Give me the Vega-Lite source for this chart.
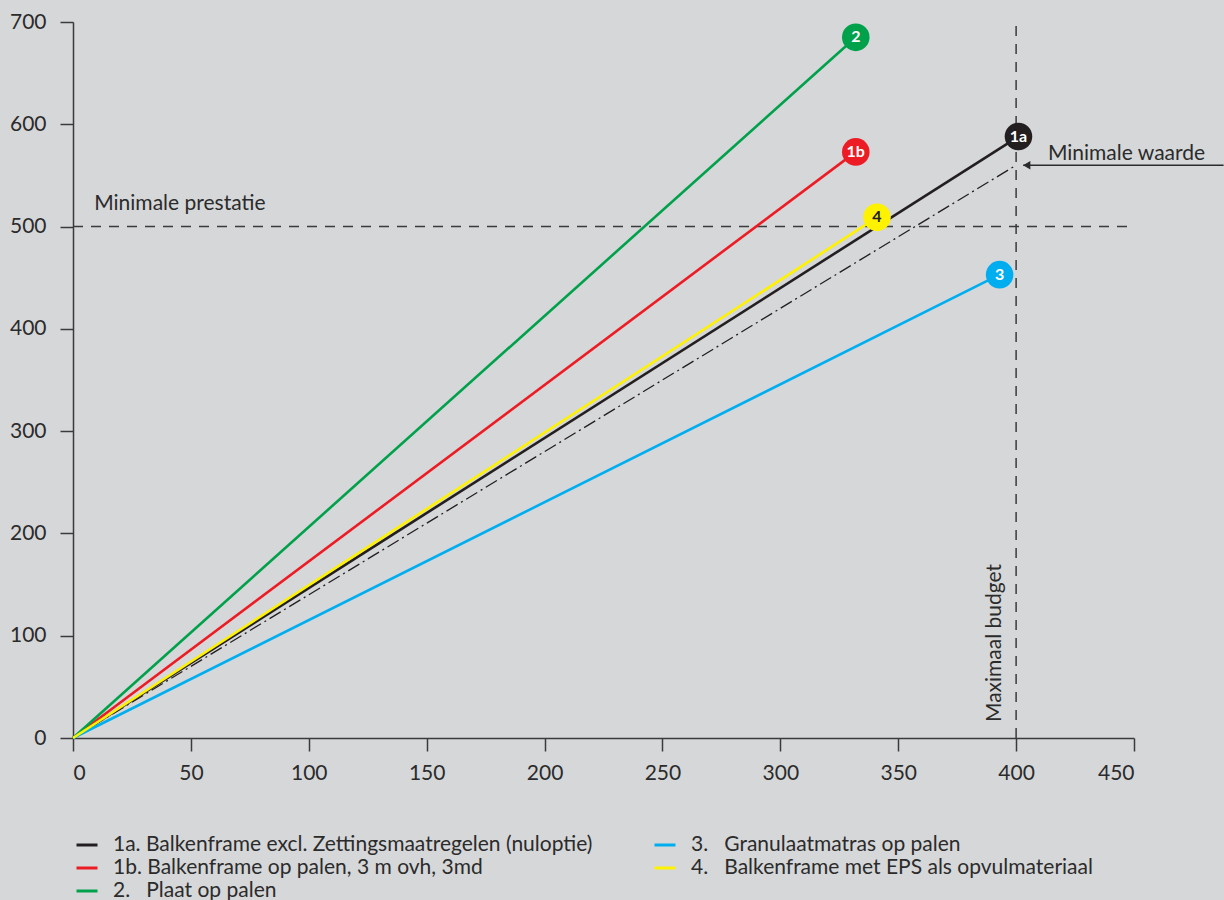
{
  "$schema": "https://vega.github.io/schema/vega-lite/v6.json",
  "width": 1061,
  "height": 716,
  "autosize": {"type": "none"},
  "padding": {"left": 73, "top": 22, "right": 90, "bottom": 162},
  "background": "#d6d7d9",
  "config": {
    "view": {"stroke": null},
    "font": "Lato",
    "axis": {
      "title": null,
      "grid": false,
      "domainColor": "#3a3a3a",
      "domainWidth": 1.5,
      "tickColor": "#3a3a3a",
      "tickWidth": 1.5,
      "tickSize": 13,
      "labelFont": "Lato",
      "labelFontSize": 21,
      "labelColor": "#2b2b2b"
    }
  },
  "datasets": {
    "lines": [
      {"series": "1a. Balkenframe excl. Zettingsmaatregelen (nuloptie)", "x": 0, "y": 0},
      {"series": "1a. Balkenframe excl. Zettingsmaatregelen (nuloptie)", "x": 401, "y": 588},
      {"series": "1b. Balkenframe op palen, 3 m ovh, 3md", "x": 0, "y": 0},
      {"series": "1b. Balkenframe op palen, 3 m ovh, 3md", "x": 332, "y": 573},
      {"series": "2.\u00a0\u00a0\u00a0Plaat op palen", "x": 0, "y": 0},
      {"series": "2.\u00a0\u00a0\u00a0Plaat op palen", "x": 332, "y": 685},
      {"series": "3.\u00a0\u00a0\u00a0Granulaatmatras op palen", "x": 0, "y": 0},
      {"series": "3.\u00a0\u00a0\u00a0Granulaatmatras op palen", "x": 393, "y": 453},
      {"series": "4.\u00a0\u00a0\u00a0Balkenframe met EPS als opvulmateriaal", "x": 0, "y": 0},
      {"series": "4.\u00a0\u00a0\u00a0Balkenframe met EPS als opvulmateriaal", "x": 341, "y": 509}
    ],
    "ends": [
      {"series": "2.\u00a0\u00a0\u00a0Plaat op palen", "x": 332, "y": 685, "lab": "2"},
      {"series": "1b. Balkenframe op palen, 3 m ovh, 3md", "x": 332, "y": 573, "lab": "1b"},
      {"series": "4.\u00a0\u00a0\u00a0Balkenframe met EPS als opvulmateriaal", "x": 341, "y": 509, "lab": "4"},
      {"series": "3.\u00a0\u00a0\u00a0Granulaatmatras op palen", "x": 393, "y": 453, "lab": "3"},
      {"series": "1a. Balkenframe excl. Zettingsmaatregelen (nuloptie)", "x": 401, "y": 588, "lab": "1a"}
    ],
    "minline": [
      {"x": 0, "y": 0},
      {"x": 400, "y": 560}
    ],
    "hrule": [{"x": 0, "x2": 450, "y": 500}],
    "vrule": [{"x": 400, "y": 0, "y2": 700}]
  },
  "encoding": {
    "x": {
      "field": "x",
      "type": "quantitative",
      "scale": {"domain": [0, 450], "nice": false, "zero": false},
      "axis": {"values": [0, 50, 100, 150, 200, 250, 300, 350, 400, 450], "labelPadding": 11}
    },
    "y": {
      "field": "y",
      "type": "quantitative",
      "scale": {"domain": [0, 700], "nice": false, "zero": false},
      "axis": {"values": [0, 100, 200, 300, 400, 500, 600, 700], "labelPadding": 14}
    }
  },
  "layer": [
    {
      "data": {"name": "hrule"},
      "mark": {"type": "rule", "color": "#3a3a3a", "strokeWidth": 1.5, "strokeDash": [10, 8]},
      "encoding": {"x2": {"field": "x2"}}
    },
    {
      "data": {"name": "vrule"},
      "mark": {"type": "rule", "color": "#3a3a3a", "strokeWidth": 1.5, "strokeDash": [10, 8]},
      "encoding": {"y2": {"field": "y2"}}
    },
    {
      "data": {"name": "minline"},
      "mark": {"type": "line", "color": "#231f20", "strokeWidth": 1.3, "strokeDash": [13, 4, 2, 4]},
      "encoding": {}
    },
    {
      "data": {"name": "lines"},
      "mark": {"type": "line", "strokeWidth": 2.6},
      "encoding": {
        "color": {
          "field": "series",
          "type": "nominal",
          "scale": {
            "domain": [
              "1a. Balkenframe excl. Zettingsmaatregelen (nuloptie)",
              "1b. Balkenframe op palen, 3 m ovh, 3md",
              "2.\u00a0\u00a0\u00a0Plaat op palen",
              "3.\u00a0\u00a0\u00a0Granulaatmatras op palen",
              "4.\u00a0\u00a0\u00a0Balkenframe met EPS als opvulmateriaal"
            ],
            "range": ["#231f20", "#ed1c24", "#00a14b", "#00aeef", "#fff200"]
          },
          "legend": {
            "orient": "none",
            "legendX": 2,
            "legendY": 811,
            "columns": 2,
            "title": null,
            "symbolType": "stroke",
            "symbolSize": 441,
            "symbolStrokeWidth": 3,
            "labelFont": "Lato",
            "labelFontSize": 21,
            "labelColor": "#2b2b2b",
            "labelOffset": 14,
            "labelLimit": 0,
            "columnPadding": 55,
            "rowPadding": 1,
            "padding": 0,
            "gridAlign": "each"
          }
        },
        "order": {"field": "x"}
      }
    },
    {
      "data": {"name": "ends"},
      "mark": {"type": "point", "filled": true, "size": 760, "opacity": 1},
      "encoding": {
        "color": {"field": "series", "type": "nominal", "legend": null}
      }
    },
    {
      "data": {"name": "ends"},
      "mark": {"type": "text", "font": "Lato", "fontWeight": "bold", "fontSize": 16, "align": "center", "baseline": "middle"},
      "encoding": {
        "text": {"field": "lab"},
        "color": {"condition": {"test": "datum.lab === '4'", "value": "#231f20"}, "value": "#ffffff"}
      }
    },
    {
      "data": {"values": [{"x": 9, "y": 516, "t": "Minimale prestatie"}, {"x": 413.5, "y": 565, "t": "Minimale waarde"}]},
      "mark": {"type": "text", "align": "left", "baseline": "alphabetic", "fontSize": 21, "font": "Lato", "color": "#2b2b2b"},
      "encoding": {"text": {"field": "t"}}
    },
    {
      "data": {"values": [{"x": 391, "y": 15.6, "t": "Maximaal budget"}]},
      "mark": {"type": "text", "align": "left", "baseline": "middle", "angle": 270, "fontSize": 21, "font": "Lato", "color": "#2b2b2b"},
      "encoding": {"text": {"field": "t"}}
    },
    {
      "data": {"values": [{"x": 403, "x2": 488, "y": 560}]},
      "mark": {"type": "rule", "color": "#2b2b2b", "strokeWidth": 1.5},
      "encoding": {"x2": {"field": "x2"}}
    },
    {
      "data": {"values": [{"x": 404.5, "y": 560}]},
      "mark": {"type": "point", "shape": "triangle-left", "filled": true, "size": 70, "color": "#2b2b2b", "opacity": 1},
      "encoding": {}
    }
  ]
}
